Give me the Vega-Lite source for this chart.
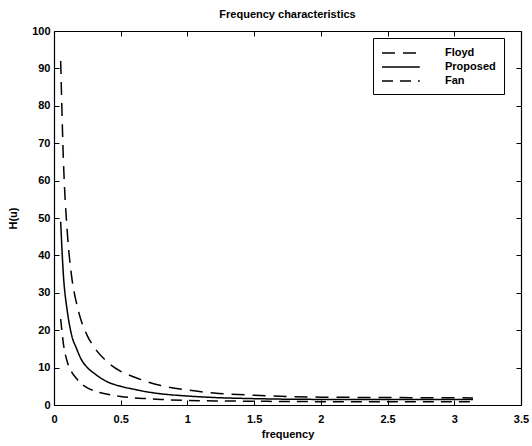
{
  "$schema": "https://vega.github.io/schema/vega-lite/v6.json",
  "width": 467,
  "height": 374,
  "autosize": {"type": "none"},
  "padding": {"left": 54, "top": 31, "right": 11, "bottom": 41},
  "background": "white",
  "config": {
    "font": "Liberation Sans",
    "view": {"stroke": null},
    "axis": {
      "domainColor": "black", "tickColor": "black", "labelColor": "black", "titleColor": "black",
      "labelFont": "Liberation Sans", "titleFont": "Liberation Sans",
      "labelFontSize": 11, "titleFontSize": 11, "labelFontWeight": "bold", "titleFontWeight": "bold",
      "grid": false, "tickSize": -5, "domainWidth": 1.2, "tickWidth": 1
    }
  },
  "title": {"text": "Frequency characteristics", "fontSize": 11, "fontWeight": "bold", "font": "Liberation Sans", "color": "black", "anchor": "middle", "offset": 5},
  "data": {"values": [
    {"f": 0.05, "H": 92, "m": "Floyd"}, {"f": 0.07, "H": 66, "m": "Floyd"}, {"f": 0.1, "H": 46, "m": "Floyd"}, {"f": 0.13, "H": 35, "m": "Floyd"}, {"f": 0.17, "H": 27, "m": "Floyd"}, {"f": 0.2, "H": 23, "m": "Floyd"}, {"f": 0.25, "H": 18.5, "m": "Floyd"}, {"f": 0.3, "H": 15.5, "m": "Floyd"}, {"f": 0.4, "H": 11.5, "m": "Floyd"}, {"f": 0.5, "H": 9, "m": "Floyd"}, {"f": 0.6, "H": 7.5, "m": "Floyd"}, {"f": 0.7, "H": 6.2, "m": "Floyd"}, {"f": 0.8, "H": 5.2, "m": "Floyd"}, {"f": 1.0, "H": 4, "m": "Floyd"}, {"f": 1.2, "H": 3.2, "m": "Floyd"}, {"f": 1.5, "H": 2.6, "m": "Floyd"}, {"f": 2.0, "H": 2.1, "m": "Floyd"}, {"f": 2.5, "H": 2.0, "m": "Floyd"}, {"f": 3.14, "H": 1.9, "m": "Floyd"},
    {"f": 0.05, "H": 49, "m": "Proposed"}, {"f": 0.07, "H": 35, "m": "Proposed"}, {"f": 0.1, "H": 25, "m": "Proposed"}, {"f": 0.13, "H": 19, "m": "Proposed"}, {"f": 0.17, "H": 15, "m": "Proposed"}, {"f": 0.2, "H": 12.5, "m": "Proposed"}, {"f": 0.25, "H": 10, "m": "Proposed"}, {"f": 0.3, "H": 8.5, "m": "Proposed"}, {"f": 0.4, "H": 6.2, "m": "Proposed"}, {"f": 0.5, "H": 5, "m": "Proposed"}, {"f": 0.6, "H": 4.2, "m": "Proposed"}, {"f": 0.7, "H": 3.5, "m": "Proposed"}, {"f": 0.8, "H": 3, "m": "Proposed"}, {"f": 1.0, "H": 2.4, "m": "Proposed"}, {"f": 1.2, "H": 2.0, "m": "Proposed"}, {"f": 1.5, "H": 1.7, "m": "Proposed"}, {"f": 2.0, "H": 1.5, "m": "Proposed"}, {"f": 2.5, "H": 1.5, "m": "Proposed"}, {"f": 3.14, "H": 1.5, "m": "Proposed"},
    {"f": 0.05, "H": 23, "m": "Fan"}, {"f": 0.07, "H": 16.5, "m": "Fan"}, {"f": 0.1, "H": 11.5, "m": "Fan"}, {"f": 0.13, "H": 9, "m": "Fan"}, {"f": 0.17, "H": 7, "m": "Fan"}, {"f": 0.2, "H": 5.8, "m": "Fan"}, {"f": 0.25, "H": 4.6, "m": "Fan"}, {"f": 0.3, "H": 3.8, "m": "Fan"}, {"f": 0.4, "H": 2.9, "m": "Fan"}, {"f": 0.5, "H": 2.3, "m": "Fan"}, {"f": 0.6, "H": 1.9, "m": "Fan"}, {"f": 0.7, "H": 1.7, "m": "Fan"}, {"f": 0.8, "H": 1.5, "m": "Fan"}, {"f": 1.0, "H": 1.2, "m": "Fan"}, {"f": 1.2, "H": 1.1, "m": "Fan"}, {"f": 1.5, "H": 1.0, "m": "Fan"}, {"f": 2.0, "H": 0.9, "m": "Fan"}, {"f": 2.5, "H": 0.9, "m": "Fan"}, {"f": 3.14, "H": 0.9, "m": "Fan"}
  ]},
  "layer": [
    {
      "mark": {"type": "line", "color": "black", "interpolate": "monotone"},
      "encoding": {
        "x": {"field": "f", "type": "quantitative", "scale": {"domain": [0, 3.5], "nice": false}, "axis": {"title": "frequency", "values": [0, 0.5, 1, 1.5, 2, 2.5, 3, 3.5], "format": "~g", "labelPadding": 13, "titlePadding": 4, "labelFlush": false}},
        "y": {"field": "H", "type": "quantitative", "scale": {"domain": [0, 100], "nice": false}, "axis": {"title": "H(u)", "values": [0, 10, 20, 30, 40, 50, 60, 70, 80, 90, 100], "labelPadding": 9, "titlePadding": 13}},
        "strokeDash": {"field": "m", "type": "nominal", "scale": {"domain": ["Floyd", "Proposed", "Fan"], "range": [[13, 8], [1, 0], [11, 7]]},
          "legend": {"title": null, "orient": "none", "legendX": 319, "legendY": 7, "strokeColor": "black", "padding": 8, "fillColor": "white",
            "symbolType": "M-1,0H5.3", "symbolSize": 144, "symbolStrokeColor": "black", "labelOffset": 50, "labelFontSize": 11, "labelFontWeight": "bold", "labelColor": "black", "rowPadding": 2}},
        "strokeWidth": {"field": "m", "type": "nominal", "scale": {"domain": ["Floyd", "Proposed", "Fan"], "range": [1.5, 1.5, 1.1]}, "legend": null}
      }
    },
    {
      "mark": {"type": "point", "opacity": 0},
      "encoding": {
        "x": {"field": "f", "type": "quantitative", "axis": {"orient": "top", "labels": false, "title": null, "values": [0, 0.5, 1, 1.5, 2, 2.5, 3, 3.5]}},
        "y": {"field": "H", "type": "quantitative", "axis": {"orient": "right", "labels": false, "title": null, "values": [0, 10, 20, 30, 40, 50, 60, 70, 80, 90, 100]}}
      }
    }
  ],
  "resolve": {"axis": {"x": "independent", "y": "independent"}}
}
